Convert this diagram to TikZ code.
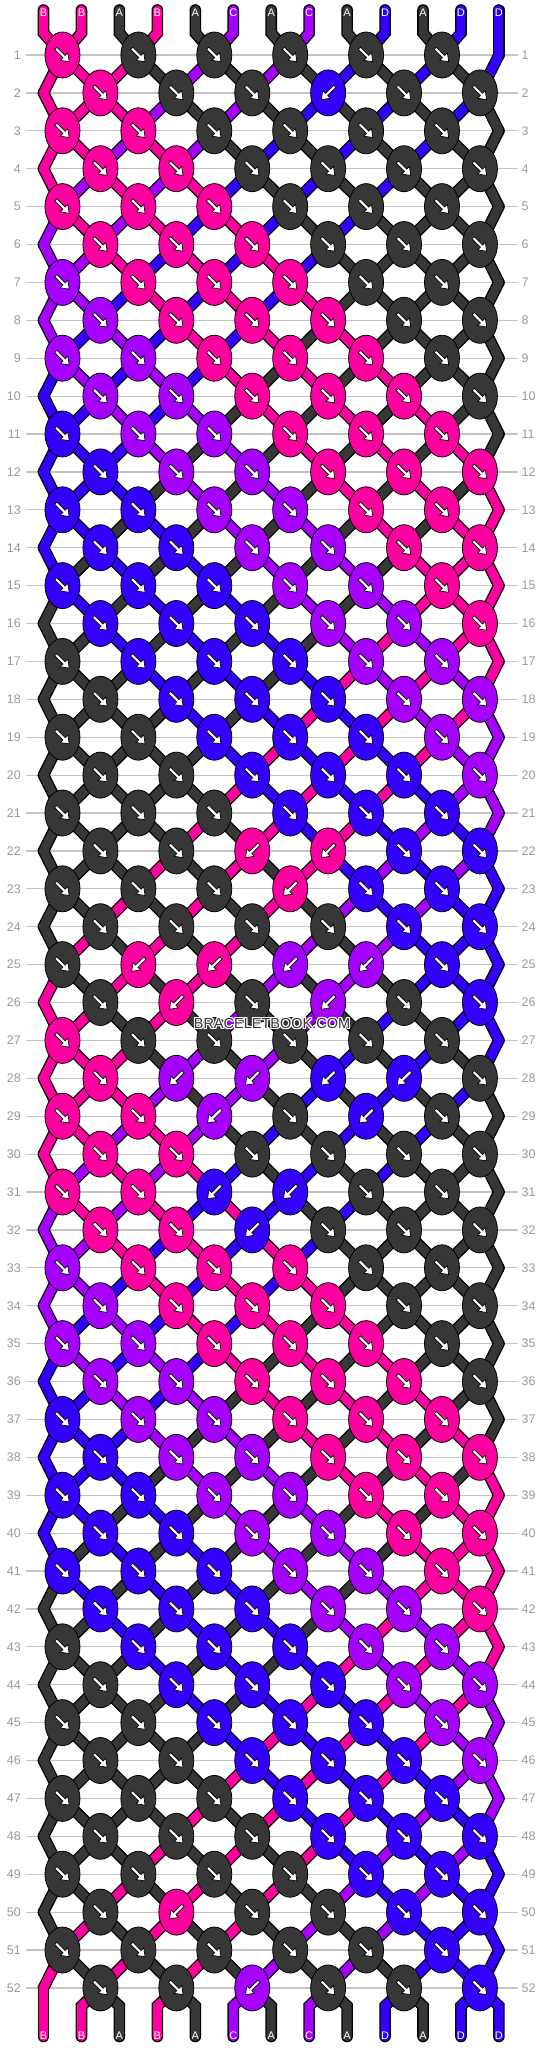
\documentclass[tikz,border=0pt]{standalone}
\usepackage{fontspec}
\setmainfont{Liberation Sans}
\usepackage{xcolor}
\usetikzlibrary{shapes.geometric}

\definecolor{strA}{HTML}{373737}
\definecolor{strB}{HTML}{FF00A0}
\definecolor{strC}{HTML}{A600FF}
\definecolor{strD}{HTML}{3300FF}
\definecolor{numgray}{HTML}{9A9A9A}
\definecolor{linegray}{HTML}{C4C4C4}

\def\xzero{43.5}
\def\dx{37.95}
\def\yzero{55}
\def\dy{37.9}

\newcommand\getpos[2]{%
  \pgfmathtruncatemacro\isodd{mod(#1,2)}%
  \ifnum\isodd=1
    \ifnum#2=13\relax \pgfmathsetmacro\ptx{\xzero+12*\dx}%
    \else \pgfmathsetmacro\ptx{\xzero+(2*ceil(#2/2)-1.5)*\dx}\fi
  \else
    \ifnum#2=1\relax \pgfmathsetmacro\ptx{\xzero}%
    \else \pgfmathsetmacro\ptx{\xzero+(2*floor(#2/2)-0.5)*\dx}\fi
  \fi
  \pgfmathsetmacro\pty{\yzero+(#1-1)*\dy}}

\newcommand\drawseg[2]{%
  \ifnum\segpass=0 \draw[line width=11.6pt, line cap=round, black] #2;%
  \else \draw[line width=9pt, line cap=round, color=str#1] #2;\fi}

\tikzset{
  knot/.style={ellipse, draw=black, line width=0.8pt, minimum width=35pt, minimum height=46pt, inner sep=0pt},
  rownum/.style={text=numgray, inner sep=0pt, font=\fontsize{12.5}{13}\selectfont},
  strlabel/.style={text=white, inner sep=0pt, font=\fontsize{11}{11}\selectfont},
  pics/knotarrow/.style={code={
    \filldraw[fill=white, draw=black, line width=0.7pt]
      (-9.5,-1.6) -- (2.2,-1.6) -- (2.2,-5.4) -- (9.5,0) -- (2.2,5.4) -- (2.2,1.6) -- (-9.5,1.6) -- cycle;}},
}

% knots tied right-to-left, as row-knot
\def\backknots{2-4,22-3,22-4,23-4,25-2,25-3,25-4,25-5,26-2,26-4,28-2,28-3,28-4,28-5,29-3,29-5,31-3,31-4,32-3,50-2,52-3}
\def\startcols{B,B,A,B,A,C,A,C,A,D,A,D,D}

\begin{document}
\begin{tikzpicture}[x=1pt, y=-1pt]
  \useasboundingbox (0,0) rectangle (544,2048);
  \fill[white] (0,0) rectangle (544,2048);
  \foreach \e in \backknots {\expandafter\gdef\csname bk\e\endcsname{}}

  % follow the strings through the rows
  \foreach \c [count=\i] in \startcols {\expandafter\xdef\csname sc\i\endcsname{\c}}
  \foreach \rw in {1,...,52} {
    \pgfmathtruncatemacro\rowodd{mod(\rw,2)}
    \foreach \kn in {1,...,6} {
      \pgfmathtruncatemacro\lpos{2*\kn-\rowodd}
      \pgfmathtruncatemacro\rpos{\lpos+1}
      \edef\colL{\csname sc\lpos\endcsname}
      \edef\colR{\csname sc\rpos\endcsname}
      \ifcsname bk\rw-\kn\endcsname
        \expandafter\xdef\csname kc\rw-\kn\endcsname{str\colR}
        \expandafter\xdef\csname ka\rw-\kn\endcsname{-135}
      \else
        \expandafter\xdef\csname kc\rw-\kn\endcsname{str\colL}
        \expandafter\xdef\csname ka\rw-\kn\endcsname{-45}
      \fi
      \expandafter\xdef\csname sc\lpos\endcsname{\colR}
      \expandafter\xdef\csname sc\rpos\endcsname{\colL}
    }
    \foreach \qs in {1,...,13} {\expandafter\xdef\csname sg\rw-\qs\endcsname{\csname sc\qs\endcsname}}
  }

  % row lines and numbers
  \foreach \rw in {1,...,52} {
    \pgfmathsetmacro\ry{\yzero+(\rw-1)*\dy}
    \draw[linegray, line width=1.2pt] (26,\ry) -- (518,\ry);
    \node[rownum, anchor=east] (numL-\rw) at (21,\ry) {\rw};
    \node[rownum, anchor=west] (numR-\rw) at (521.5,\ry) {\rw};
  }

  % strings: black outline first, then colour
  \foreach \segpass in {0,1} {
    \foreach \c [count=\i] in \startcols {
      \pgfmathsetmacro\tx{\xzero+(\i-1)*\dx}
      \getpos{1}{\i}
      \drawseg{\c}{(\tx,10) -- (\tx,33) -- (\ptx,\pty)}
    }
    \foreach \rw in {1,...,52} {
      \foreach \qs in {1,...,13} {
        \getpos{\rw}{\qs}
        \let\ax\ptx \let\ay\pty
        \edef\scol{\csname sg\rw-\qs\endcsname}
        \ifnum\rw<52
          \pgfmathtruncatemacro\rn{\rw+1}
          \getpos{\rn}{\qs}
          \drawseg{\scol}{(\ax,\ay) -- (\ptx,\pty)}
        \else
          \pgfmathsetmacro\bx{\xzero+(\qs-1)*\dx}
          \drawseg{\scol}{(\ax,\ay) -- (\bx,2006) -- (\bx,2036.5)}
        \fi
      }
    }
  }

  \foreach \c [count=\i] in \startcols {
    \pgfmathsetmacro\tx{\xzero+(\i-1)*\dx}
    \node[strlabel] (top-\i) at (\tx,12.5) {\c};
    \edef\scol{\csname sg52-\i\endcsname}
    \node[strlabel] (bot-\i) at (\tx,2035.5) {\scol};
  }

  % knots
  \foreach \rw in {1,...,52} {
    \pgfmathtruncatemacro\rowodd{mod(\rw,2)}
    \pgfmathsetmacro\ry{\yzero+(\rw-1)*\dy}
    \foreach \kn in {1,...,6} {
      \pgfmathsetmacro\kx{\xzero+(2*\kn-\rowodd-0.5)*\dx}
      \edef\fillcol{\csname kc\rw-\kn\endcsname}
      \edef\ang{\csname ka\rw-\kn\endcsname}
      \node[knot, fill=\fillcol] (knot-\rw-\kn) at (\kx,\ry) {};
      \pic[rotate=\ang] at (knot-\rw-\kn) {knotarrow};
    }
  }

  \foreach \ox/\oy [count=\h] in {-1/-1,-1/0,-1/1,0/-1,0/1,1/-1,1/0,1/1}
    \node[text=white, font=\fontsize{14.5}{15}\selectfont] (halo-\h) at (272+\ox,1023+\oy) {BRACELETBOOK.COM};
  \node[text=strA, font=\fontsize{14.5}{15}\selectfont] (mark) at (272,1023) {BRACELETBOOK.COM};
\end{tikzpicture}
\end{document}
